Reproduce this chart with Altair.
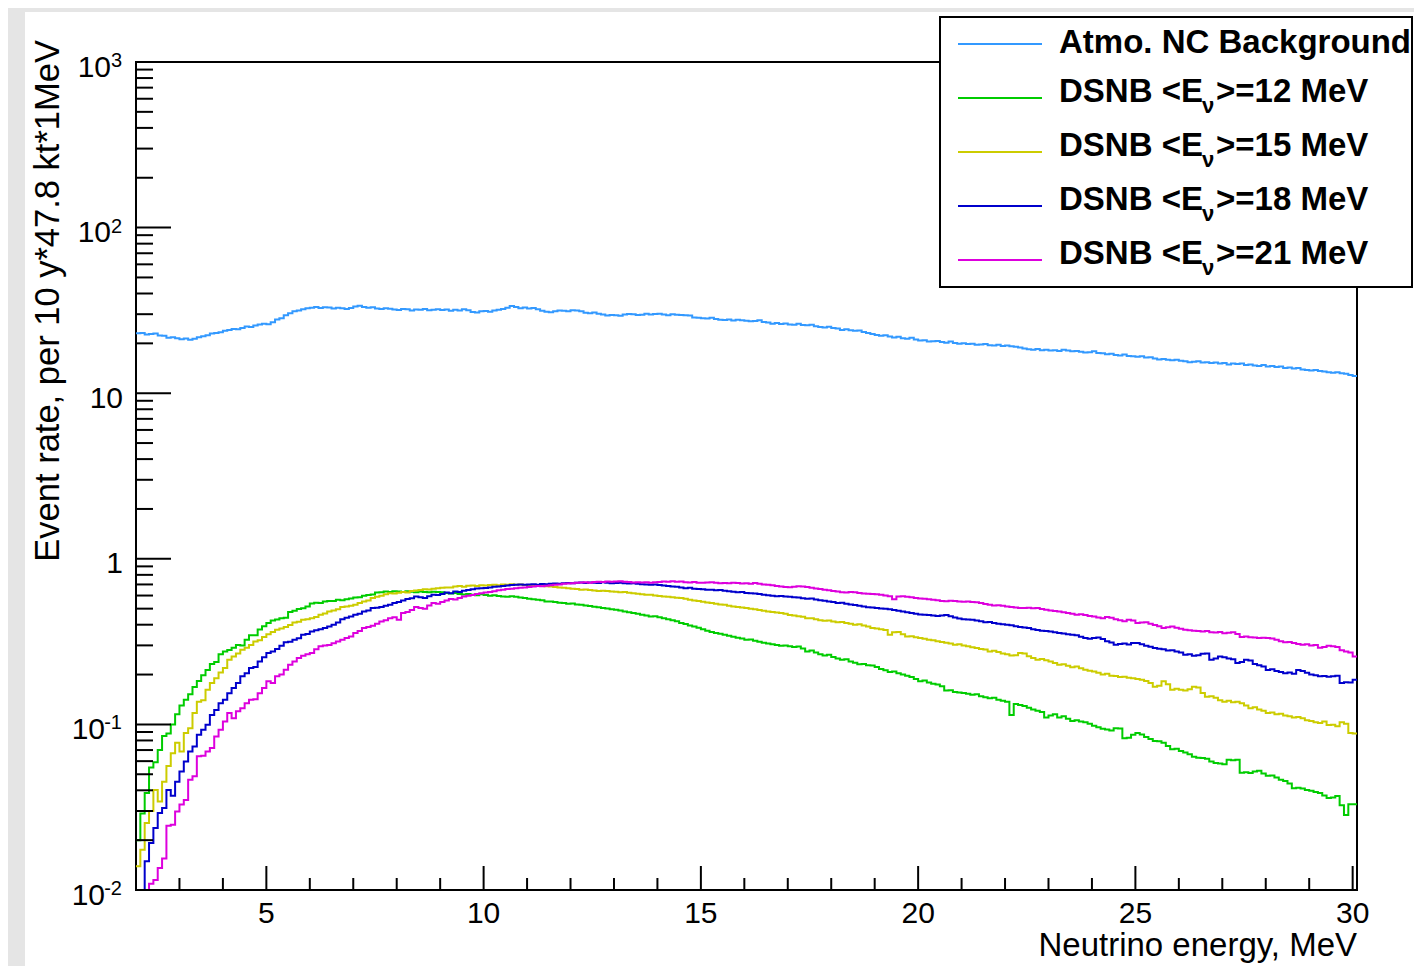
import altair as alt
import pandas as pd

# ---------------- data (bin contents, 0.1 MeV bins starting at 2.0 MeV) ----------------
X_MIN, X_MAX, BIN_W = 2.0, 30.1, 0.1

atmo_nc = [
    23.0, 23.1, 22.6, 22.8, 22.9, 22.3, 22.2, 21.6, 21.8, 21.5,
    21.2, 21.4, 21.0, 21.3, 21.8, 22.1, 22.4, 22.9, 23.1, 23.3,
    23.8, 24.1, 24.4, 24.3, 24.8, 25.3, 25.1, 25.6, 26.0, 26.3,
    26.1, 26.8, 27.9, 28.4, 29.6, 30.4, 31.3, 31.6, 32.1, 32.6,
    32.8, 33.1, 32.7, 33.0, 32.9, 32.5, 32.8, 32.6, 32.3, 32.7,
    33.4, 33.7, 33.2, 32.8, 33.0, 32.5, 32.2, 32.6, 32.4, 32.0,
    31.8, 32.3, 32.1, 31.6, 32.0, 31.9, 32.2, 31.7, 31.9, 32.1,
    31.8, 32.0, 31.5, 31.9, 31.6, 32.1, 31.7, 30.9, 30.7, 31.2,
    31.4, 31.0, 31.6, 31.9, 32.3, 32.8, 33.6, 33.2, 32.6, 32.9,
    32.5, 32.7, 32.1, 31.5, 31.0, 30.8, 31.3, 31.6, 31.5, 31.2,
    31.7, 31.6, 31.2, 30.6, 30.4, 30.7, 30.2, 29.9, 29.5, 29.7,
    29.6, 29.4, 29.9, 30.1, 30.0, 29.7, 29.8, 30.2, 29.9, 30.1,
    30.2, 29.9, 29.6, 30.0, 29.8, 29.7, 29.6, 29.5, 28.7, 28.6,
    28.4, 28.3, 28.6, 28.1, 27.8, 27.7, 27.9, 27.5, 27.8, 27.6,
    27.4, 27.2, 27.3, 27.6, 26.9, 26.7, 26.3, 26.5, 26.2, 26.4,
    26.0, 25.9, 26.3, 25.8, 25.7, 25.9, 25.4, 25.1, 24.9, 25.2,
    24.8, 24.6, 24.1, 24.3, 24.0, 23.8, 23.9, 23.4, 23.1, 22.8,
    22.5, 22.2, 22.4, 22.0, 21.7, 21.9, 21.5, 21.3, 21.6, 21.1,
    20.8, 20.9, 20.5, 20.6, 20.7, 20.4, 20.2, 20.5, 20.1, 19.9,
    20.0, 19.8, 19.9, 19.6, 19.7, 19.8, 19.5, 19.4, 19.6, 19.3,
    19.4, 19.2, 19.1, 18.9, 18.6, 18.4, 18.3, 18.5, 18.2, 18.3,
    18.1, 18.2, 18.0, 18.3, 18.1, 17.9, 18.0, 17.8, 17.6, 17.7,
    17.9, 17.5, 17.4, 17.2, 17.3, 17.0, 16.9, 17.1, 16.8, 16.7,
    16.6, 16.7, 16.4, 16.5, 16.2, 16.0, 16.1, 15.9, 15.8, 15.9,
    15.7, 15.6, 15.4, 15.5, 15.6, 15.3, 15.4, 15.2, 15.3, 15.1,
    15.2, 14.9, 15.1, 15.0, 15.1, 14.8, 14.9, 14.7, 14.6, 14.8,
    14.5, 14.6, 14.4, 14.5, 14.2, 14.3, 14.1, 14.2, 13.9, 13.8,
    13.7, 13.8, 13.6, 13.5, 13.4, 13.3, 13.4, 13.2, 13.1, 12.9,
    12.7,
]

dsnb_12 = [
    0.020, 0.029, 0.0385, 0.055, 0.059, 0.070, 0.085, 0.088, 0.100, 0.115,
    0.130, 0.141, 0.152, 0.168, 0.183, 0.198, 0.213, 0.232, 0.238, 0.265,
    0.276, 0.281, 0.290, 0.302, 0.300, 0.324, 0.346, 0.345, 0.374, 0.392,
    0.409, 0.424, 0.430, 0.438, 0.441, 0.478, 0.485, 0.497, 0.503, 0.516,
    0.538, 0.542, 0.540, 0.553, 0.557, 0.556, 0.565, 0.562, 0.570, 0.575,
    0.583, 0.586, 0.598, 0.605, 0.608, 0.625, 0.628, 0.634, 0.631, 0.636,
    0.634, 0.630, 0.637, 0.633, 0.629, 0.635, 0.631, 0.627, 0.633, 0.630,
    0.628, 0.622, 0.617, 0.621, 0.613, 0.609, 0.612, 0.606, 0.603, 0.610,
    0.605, 0.598, 0.602, 0.596, 0.593, 0.590, 0.594, 0.589, 0.583, 0.580,
    0.574, 0.570, 0.566, 0.561, 0.553, 0.552, 0.548, 0.543, 0.540, 0.535,
    0.537, 0.530, 0.527, 0.522, 0.519, 0.514, 0.510, 0.505, 0.501, 0.496,
    0.492, 0.487, 0.480, 0.476, 0.470, 0.466, 0.460, 0.455, 0.448, 0.450,
    0.443, 0.437, 0.431, 0.425, 0.420, 0.409, 0.404, 0.396, 0.390, 0.383,
    0.376, 0.368, 0.362, 0.356, 0.353, 0.348, 0.343, 0.338, 0.334, 0.330,
    0.324, 0.326, 0.320, 0.316, 0.311, 0.308, 0.305, 0.302, 0.298, 0.300,
    0.296, 0.293, 0.295, 0.287, 0.276, 0.279, 0.272, 0.265, 0.261, 0.263,
    0.255, 0.250, 0.246, 0.247, 0.240, 0.236, 0.231, 0.232, 0.228, 0.227,
    0.222, 0.216, 0.212, 0.207, 0.209, 0.204, 0.200, 0.197, 0.193, 0.188,
    0.182, 0.184, 0.179, 0.176, 0.174, 0.170, 0.160, 0.161, 0.157, 0.156,
    0.155, 0.153, 0.151, 0.152, 0.148, 0.146, 0.144, 0.145, 0.141, 0.139,
    0.137, 0.114, 0.133, 0.131, 0.129, 0.126, 0.123, 0.121, 0.119, 0.110,
    0.113, 0.115, 0.110, 0.112, 0.108, 0.105, 0.106, 0.104, 0.103, 0.101,
    0.098, 0.096, 0.094, 0.093, 0.092, 0.0947, 0.0945, 0.0825, 0.0830, 0.0865,
    0.0887, 0.0870, 0.0840, 0.0815, 0.0793, 0.0790, 0.0775, 0.0740, 0.0708, 0.0712,
    0.0690, 0.0677, 0.0660, 0.0637, 0.0630, 0.0627, 0.0620, 0.0598, 0.0585, 0.0580,
    0.0575, 0.0612, 0.0608, 0.0612, 0.0510, 0.0515, 0.0508, 0.0520, 0.0525, 0.0505,
    0.0489, 0.0492, 0.0478, 0.0464, 0.0455, 0.0440, 0.0411, 0.0415, 0.0410, 0.0401,
    0.0398, 0.0390, 0.0385, 0.0372, 0.0359, 0.0362, 0.0370, 0.0325, 0.0284, 0.0330,
    0.0330,
]

dsnb_15 = [
    0.0139, 0.0175, 0.0254, 0.0300, 0.0401, 0.0342, 0.0451, 0.0561, 0.0670, 0.0776,
    0.0686, 0.0887, 0.0947, 0.117, 0.137, 0.140, 0.162, 0.178, 0.190, 0.206,
    0.219, 0.246, 0.257, 0.268, 0.282, 0.290, 0.302, 0.317, 0.322, 0.337,
    0.350, 0.362, 0.373, 0.380, 0.387, 0.398, 0.412, 0.417, 0.428, 0.432,
    0.438, 0.445, 0.459, 0.468, 0.480, 0.487, 0.495, 0.511, 0.515, 0.520,
    0.527, 0.540, 0.552, 0.560, 0.579, 0.590, 0.598, 0.610, 0.620, 0.617,
    0.623, 0.630, 0.625, 0.640, 0.644, 0.648, 0.655, 0.652, 0.660, 0.665,
    0.668, 0.672, 0.670, 0.680, 0.684, 0.679, 0.688, 0.690, 0.686, 0.692,
    0.690, 0.695, 0.698, 0.693, 0.700, 0.697, 0.702, 0.696, 0.699, 0.694,
    0.690, 0.693, 0.686, 0.688, 0.682, 0.680, 0.676, 0.672, 0.668, 0.664,
    0.660, 0.657, 0.650, 0.653, 0.648, 0.644, 0.640, 0.642, 0.638, 0.634,
    0.632, 0.628, 0.630, 0.624, 0.620, 0.616, 0.611, 0.607, 0.606, 0.600,
    0.597, 0.593, 0.590, 0.586, 0.582, 0.579, 0.573, 0.566, 0.560, 0.556,
    0.550, 0.545, 0.540, 0.536, 0.530, 0.527, 0.520, 0.516, 0.512, 0.508,
    0.504, 0.500, 0.496, 0.490, 0.485, 0.480, 0.477, 0.474, 0.470, 0.466,
    0.458, 0.455, 0.450, 0.446, 0.438, 0.437, 0.432, 0.425, 0.422, 0.424,
    0.418, 0.414, 0.416, 0.410, 0.405, 0.400, 0.402, 0.396, 0.390, 0.382,
    0.380, 0.376, 0.372, 0.348, 0.360, 0.362, 0.350, 0.339, 0.341, 0.336,
    0.332, 0.329, 0.325, 0.322, 0.318, 0.314, 0.311, 0.308, 0.303, 0.305,
    0.300, 0.296, 0.292, 0.289, 0.285, 0.283, 0.276, 0.278, 0.274, 0.268,
    0.265, 0.261, 0.262, 0.270, 0.268, 0.258, 0.252, 0.246, 0.248, 0.244,
    0.240, 0.235, 0.229, 0.231, 0.226, 0.221, 0.224, 0.218, 0.214, 0.211,
    0.209, 0.205, 0.200, 0.202, 0.197, 0.196, 0.193, 0.194, 0.191, 0.190,
    0.188, 0.186, 0.183, 0.178, 0.169, 0.171, 0.182, 0.175, 0.162, 0.164,
    0.162, 0.160, 0.163, 0.169, 0.167, 0.155, 0.147, 0.148, 0.145, 0.140,
    0.137, 0.139, 0.136, 0.137, 0.134, 0.130, 0.125, 0.127, 0.123, 0.121,
    0.117, 0.118, 0.115, 0.116, 0.113, 0.112, 0.110, 0.111, 0.109, 0.106,
    0.105, 0.103, 0.102, 0.104, 0.099, 0.0994, 0.0975, 0.103, 0.101, 0.0887,
    0.088,
]

dsnb_18 = [
    0.010, 0.010, 0.0149, 0.0192, 0.0237, 0.0292, 0.0313, 0.0401, 0.0371, 0.0451,
    0.0520, 0.0596, 0.0686, 0.0735, 0.0866, 0.0927, 0.0994, 0.114, 0.122, 0.134,
    0.141, 0.154, 0.166, 0.178, 0.195, 0.204, 0.219, 0.222, 0.240, 0.254,
    0.270, 0.276, 0.285, 0.298, 0.313, 0.316, 0.324, 0.331, 0.348, 0.352,
    0.364, 0.370, 0.376, 0.382, 0.390, 0.400, 0.412, 0.432, 0.440, 0.448,
    0.459, 0.466, 0.480, 0.488, 0.504, 0.506, 0.512, 0.520, 0.528, 0.540,
    0.548, 0.560, 0.571, 0.578, 0.592, 0.586, 0.580, 0.595, 0.606, 0.604,
    0.612, 0.625, 0.620, 0.634, 0.630, 0.641, 0.648, 0.655, 0.662, 0.665,
    0.667, 0.672, 0.678, 0.681, 0.685, 0.690, 0.694, 0.697, 0.699, 0.696,
    0.700, 0.703, 0.698, 0.705, 0.703, 0.706, 0.710, 0.708, 0.712, 0.715,
    0.711, 0.716, 0.719, 0.714, 0.720, 0.717, 0.715, 0.721, 0.716, 0.713,
    0.714, 0.716, 0.711, 0.709, 0.712, 0.706, 0.703, 0.700, 0.697, 0.699,
    0.694, 0.690, 0.686, 0.680, 0.678, 0.672, 0.665, 0.668, 0.660, 0.657,
    0.655, 0.651, 0.650, 0.646, 0.648, 0.642, 0.636, 0.632, 0.628, 0.630,
    0.622, 0.620, 0.618, 0.612, 0.606, 0.603, 0.598, 0.594, 0.597, 0.592,
    0.590, 0.586, 0.583, 0.578, 0.573, 0.575, 0.568, 0.562, 0.558, 0.552,
    0.548, 0.540, 0.542, 0.536, 0.530, 0.526, 0.520, 0.515, 0.510, 0.508,
    0.505, 0.501, 0.499, 0.496, 0.490, 0.486, 0.480, 0.475, 0.470, 0.466,
    0.461, 0.459, 0.457, 0.455, 0.452, 0.455, 0.458, 0.450, 0.442, 0.436,
    0.432, 0.430, 0.428, 0.424, 0.420, 0.414, 0.416, 0.410, 0.406, 0.402,
    0.400, 0.397, 0.392, 0.388, 0.385, 0.382, 0.376, 0.372, 0.368, 0.367,
    0.364, 0.360, 0.356, 0.354, 0.350, 0.348, 0.345, 0.338, 0.333, 0.329,
    0.332, 0.335, 0.328, 0.318, 0.312, 0.303, 0.306, 0.308, 0.304, 0.310,
    0.310, 0.305, 0.298, 0.294, 0.289, 0.286, 0.284, 0.279, 0.280, 0.276,
    0.272, 0.263, 0.265, 0.260, 0.262, 0.267, 0.268, 0.246, 0.250, 0.257,
    0.254, 0.250, 0.247, 0.235, 0.238, 0.246, 0.243, 0.232, 0.228, 0.224,
    0.213, 0.215, 0.210, 0.207, 0.204, 0.206, 0.202, 0.213, 0.210, 0.205,
    0.200, 0.198, 0.195, 0.196, 0.194, 0.195, 0.197, 0.178, 0.180, 0.179,
    0.186,
]

dsnb_21 = [
    0.010, 0.010, 0.010, 0.0109, 0.0115, 0.0136, 0.0155, 0.0244, 0.0248, 0.0298,
    0.0328, 0.0350, 0.0464, 0.0486, 0.0642, 0.0646, 0.0686, 0.0720, 0.0845, 0.0927,
    0.104, 0.117, 0.109, 0.120, 0.125, 0.134, 0.141, 0.142, 0.154, 0.166,
    0.182, 0.178, 0.195, 0.200, 0.214, 0.229, 0.240, 0.252, 0.260, 0.265,
    0.270, 0.284, 0.296, 0.300, 0.302, 0.309, 0.317, 0.325, 0.332, 0.340,
    0.356, 0.366, 0.382, 0.388, 0.394, 0.406, 0.418, 0.426, 0.438, 0.444,
    0.428, 0.470, 0.478, 0.490, 0.511, 0.505, 0.500, 0.522, 0.540, 0.536,
    0.548, 0.560, 0.571, 0.568, 0.580, 0.592, 0.598, 0.604, 0.612, 0.620,
    0.626, 0.630, 0.637, 0.645, 0.651, 0.656, 0.660, 0.665, 0.668, 0.672,
    0.676, 0.680, 0.684, 0.682, 0.687, 0.692, 0.697, 0.700, 0.706, 0.710,
    0.712, 0.716, 0.719, 0.722, 0.718, 0.724, 0.728, 0.725, 0.730, 0.727,
    0.729, 0.733, 0.726, 0.724, 0.720, 0.722, 0.719, 0.723, 0.717, 0.721,
    0.725, 0.729, 0.727, 0.731, 0.726, 0.729, 0.722, 0.720, 0.724, 0.718,
    0.716, 0.719, 0.722, 0.717, 0.713, 0.715, 0.711, 0.716, 0.714, 0.709,
    0.712, 0.708, 0.714, 0.706, 0.700, 0.697, 0.692, 0.684, 0.680, 0.676,
    0.674, 0.679, 0.682, 0.680, 0.676, 0.668, 0.662, 0.656, 0.650, 0.645,
    0.640, 0.634, 0.629, 0.626, 0.630, 0.628, 0.622, 0.618, 0.615, 0.612,
    0.610, 0.606, 0.600, 0.595, 0.570, 0.592, 0.594, 0.590, 0.585, 0.580,
    0.576, 0.573, 0.570, 0.566, 0.562, 0.557, 0.555, 0.558, 0.556, 0.552,
    0.550, 0.553, 0.549, 0.546, 0.540, 0.534, 0.528, 0.522, 0.524, 0.520,
    0.516, 0.512, 0.508, 0.505, 0.504, 0.506, 0.502, 0.504, 0.498, 0.492,
    0.488, 0.484, 0.480, 0.476, 0.470, 0.465, 0.459, 0.462, 0.458, 0.452,
    0.448, 0.442, 0.438, 0.445, 0.440, 0.432, 0.426, 0.420, 0.428, 0.424,
    0.409, 0.412, 0.414, 0.405, 0.398, 0.392, 0.382, 0.386, 0.390, 0.384,
    0.378, 0.373, 0.370, 0.368, 0.366, 0.364, 0.366, 0.360, 0.359, 0.361,
    0.355, 0.358, 0.360, 0.352, 0.337, 0.340, 0.336, 0.335, 0.333, 0.334,
    0.332, 0.330, 0.325, 0.318, 0.313, 0.315, 0.310, 0.306, 0.303, 0.305,
    0.300, 0.302, 0.290, 0.293, 0.298, 0.296, 0.293, 0.280, 0.276, 0.272,
    0.257,
]

series_names = ["Atmo. NC Background", "DSNB <E>=12 MeV", "DSNB <E>=15 MeV",
                "DSNB <E>=18 MeV", "DSNB <E>=21 MeV"]
series_values = [atmo_nc, dsnb_12, dsnb_15, dsnb_18, dsnb_21]
series_colors = ["#3399ff", "#00cc00", "#cccc00", "#0000cc", "#dd00dd"]

legend_mev = ["12", "15", "18", "21"]

x_major = [5, 10, 15, 20, 25, 30]
x_minor = [v for v in range(3, 31) if v % 5 != 0]
y_major = [0.01, 0.1, 1, 10, 100, 1000]
y_minor = [k * 10.0 ** d for d in range(-2, 3) for k in range(2, 10)]

y_plain_labels = [(1, "1"), (10, "10")]
y_pos_exp_labels = [(100, "2"), (1000, "3")]
y_neg_exp_labels = [(0.1, "-1"), (0.01, "-2")]

# ---------------- layout constants ----------------
W, H = 1221, 828
PAD_B = 76
FONT = "Liberation Sans"

xs = alt.Scale(domain=[X_MIN, X_MAX], nice=False, zero=False)
ys = alt.Scale(type="log", domain=[0.01, 1000], nice=False)

one = pd.DataFrame({"a": [0]})

layers = []

# grey strips at the left/top of the canvas
layers.append(alt.Chart(one).mark_rect(color="#e5e5e5").encode(
    x=alt.value(-128), x2=alt.value(-111), y=alt.value(-54), y2=alt.value(H + PAD_B)))
layers.append(alt.Chart(one).mark_rect(color="#e5e5e5").encode(
    x=alt.value(-128), x2=alt.value(W + 57), y=alt.value(-54), y2=alt.value(-50)))

# histograms (step lines)
for name, vals, col in zip(series_names, series_values, series_colors):
    n = len(vals)
    edges = [round(X_MIN + BIN_W * i, 2) for i in range(n + 1)]
    df = pd.DataFrame({"E": edges, "rate": list(vals) + [vals[-1]], "s": name})
    layers.append(
        alt.Chart(df).mark_line(interpolate="step-after", strokeWidth=2, clip=True, color=col)
        .encode(x=alt.X("E:Q", scale=xs, axis=None), y=alt.Y("rate:Q", scale=ys, axis=None))
    )

# ticks (inside the frame, ROOT style)
def yticks(vals, length):
    return alt.Chart(pd.DataFrame({"v": vals})).mark_rule(color="black", strokeWidth=2).encode(
        y=alt.Y("v:Q", scale=ys, axis=None), x=alt.value(0), x2=alt.value(length))

def xticks(vals, length):
    return alt.Chart(pd.DataFrame({"v": vals})).mark_rule(color="black", strokeWidth=2).encode(
        x=alt.X("v:Q", scale=xs, axis=None), y=alt.value(H), y2=alt.value(H - length))

layers += [yticks(y_major, 35), yticks(y_minor, 17), xticks(x_major, 24), xticks(x_minor, 12)]

# x tick labels
layers.append(
    alt.Chart(pd.DataFrame({"v": x_major, "t": [str(v) for v in x_major]}))
    .mark_text(font=FONT, fontSize=30, align="center", baseline="alphabetic", color="black")
    .encode(x=alt.X("v:Q", scale=xs, axis=None), y=alt.value(H + 33), text="t:N"))

# y tick labels
def ylabel(pairs, xpos, size, dy):
    return (alt.Chart(pd.DataFrame({"v": [p[0] for p in pairs], "t": [p[1] for p in pairs]}))
            .mark_text(font=FONT, fontSize=size, align="right", baseline="alphabetic",
                       color="black", dy=dy)
            .encode(y=alt.Y("v:Q", scale=ys, axis=None), x=alt.value(xpos), text="t:N"))

layers.append(ylabel(y_plain_labels, -13, 30, 14.5))
layers.append(ylabel([(v, "10") for v, _ in y_pos_exp_labels], -25, 30, 14.5))
layers.append(ylabel(y_pos_exp_labels, -14, 20, 5))
layers.append(ylabel([(v, "10") for v, _ in y_neg_exp_labels], -31, 30, 14.5))
layers.append(ylabel(y_neg_exp_labels, -14, 20, 5))

# axis titles
layers.append(alt.Chart(one).mark_text(
    text="Neutrino energy, MeV", font=FONT, fontSize=33, align="right",
    baseline="alphabetic", color="black").encode(x=alt.value(W), y=alt.value(H + 66)))
layers.append(alt.Chart(one).mark_text(
    text="Event rate, per 10 y*47.8 kt*1MeV", font=FONT, fontSize=34.5, align="right",
    baseline="alphabetic", angle=270, color="black").encode(x=alt.value(-77), y=alt.value(-22)))

# legend box
LX0, LX1, LY0, LY1 = 804, 1276, -45, 225
layers.append(alt.Chart(one).mark_rect(fill="white", stroke="black", strokeWidth=2).encode(
    x=alt.value(LX0), x2=alt.value(LX1), y=alt.value(LY0), y2=alt.value(LY1)))

row_y = [-18 + 54 * i for i in range(len(series_names))]
leg = pd.DataFrame({"ly": row_y, "c": series_colors})
layers.append(alt.Chart(leg).mark_rule(strokeWidth=2).encode(
    x=alt.value(822), x2=alt.value(906), y=alt.Y("ly:Q", scale=None),
    color=alt.Color("c:N", scale=None)))

TX = 923
layers.append(alt.Chart(pd.DataFrame({"ly": [row_y[0] + 9], "t": [series_names[0]]}))
              .mark_text(font=FONT, fontSize=33, fontWeight="bold", align="left",
                         baseline="alphabetic", color="black")
              .encode(x=alt.value(TX), y=alt.Y("ly:Q", scale=None), text="t:N"))
dsnb_rows = pd.DataFrame({
    "ly": [y + 3.5 for y in row_y[1:]],
    "lys": [y + 14.5 for y in row_y[1:]],
    "head": ["DSNB <E"] * len(legend_mev),
    "nu": ["\u03bd"] * len(legend_mev),
    "tail": [">=" + m + " MeV" for m in legend_mev],
})
layers.append(alt.Chart(dsnb_rows).mark_text(
    font=FONT, fontSize=33, fontWeight="bold", align="left", baseline="alphabetic", color="black")
    .encode(x=alt.value(TX), y=alt.Y("ly:Q", scale=None), text="head:N"))
layers.append(alt.Chart(dsnb_rows).mark_text(
    font=FONT, fontSize=22, fontWeight="bold", align="left", baseline="alphabetic", color="black")
    .encode(x=alt.value(TX + 143), y=alt.Y("lys:Q", scale=None), text="nu:N"))
layers.append(alt.Chart(dsnb_rows).mark_text(
    font=FONT, fontSize=33, fontWeight="bold", align="left", baseline="alphabetic", color="black")
    .encode(x=alt.value(TX + 157), y=alt.Y("ly:Q", scale=None), text="tail:N"))

chart = (
    alt.layer(*layers)
    .properties(width=W, height=H, background="white",
                padding={"left": 128, "top": 54, "right": 57, "bottom": PAD_B},
                autosize=alt.AutoSizeParams(type="none"))
    .configure_view(stroke="black", strokeWidth=2, fill="white")
)

chart.save("out.html", embed_options={"renderer": "svg", "actions": False})
